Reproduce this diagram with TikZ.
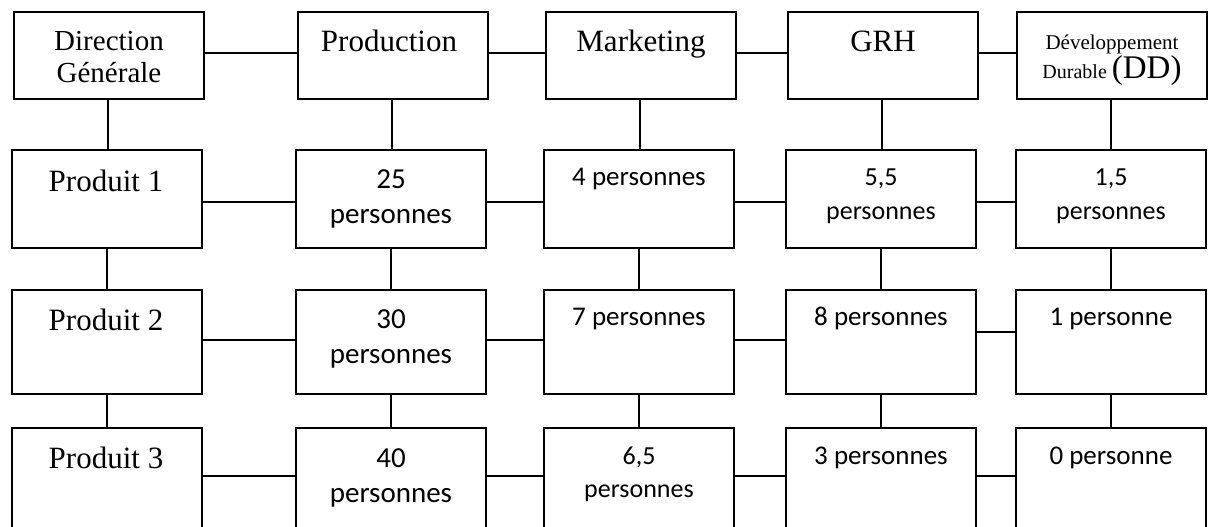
\documentclass[tikz,border=0pt]{standalone}
\usepackage{fontspec}
\setmainfont{Liberation Serif}
\newfontfamily\calfont{Carlito}
\begin{document}
\begin{tikzpicture}[x=1pt,y=-1pt,
  box/.style={draw, line width=1.8pt, rectangle, minimum width=190pt, inner sep=0pt},
  conn/.style={line width=1.8pt},
  ser/.style={anchor=base, inner sep=0pt, font=\fontsize{#1}{#1}\selectfont},
  cal/.style={anchor=base, inner sep=0pt, font=\calfont\fontsize{#1}{#1}\selectfont}]
\useasboundingbox (0,0) rectangle (1208,527);
\clip (0,0) rectangle (1208,527);
% level coordinates for horizontal connectors
\coordinate (r1) at (0,53);
\coordinate (r2) at (0,202);
\coordinate (r3) at (0,340);
\coordinate (r3b) at (0,332);
\coordinate (r4) at (0,476);
% row 1
\node[box, minimum height=87pt] (dg) at (109,55.5) {};
\node[box, minimum height=87pt] (prod) at (393,55.5) {};
\node[box, minimum height=87pt] (mkt) at (641,55.5) {};
\node[box, minimum height=87pt] (grh) at (883,55.5) {};
\node[box, minimum height=87pt] (dd) at (1112,55.5) {};
% row 2
\node[box, minimum height=98pt] (pa1) at (107,199) {};
\node[box, minimum height=98pt] (pb1) at (391,199) {};
\node[box, minimum height=98pt] (pc1) at (639,199) {};
\node[box, minimum height=98pt] (pd1) at (881,199) {};
\node[box, minimum height=98pt] (pe1) at (1111,199) {};
% row 3
\node[box, minimum height=104pt] (pa2) at (107,342) {};
\node[box, minimum height=104pt] (pb2) at (391,342) {};
\node[box, minimum height=104pt] (pc2) at (639,342) {};
\node[box, minimum height=104pt] (pd2) at (881,342) {};
\node[box, minimum height=104pt] (pe2) at (1111,342) {};
% row 4 (cut by the lower edge)
\node[box, minimum height=132pt] (pa3) at (107,494) {};
\node[box, minimum height=132pt] (pb3) at (391,494) {};
\node[box, minimum height=132pt] (pc3) at (639,494) {};
\node[box, minimum height=132pt] (pd3) at (881,494) {};
\node[box, minimum height=132pt] (pe3) at (1111,494) {};
% texts row 1
\node[ser=29] (t-dg1) at (109,51) {Direction};
\node[ser=29] (t-dg2) at (109,83) {Générale};
\node[ser=31] (t-prod) at (389,52) {Production};
\node[ser=31] (t-mkt) at (641,52) {Marketing};
\node[ser=31] (t-grh) at (883,52) {GRH};
\node[ser=21] (t-dd1) at (1112,50) {Développement};
\node[anchor=base, inner sep=0pt] (t-dd2) at (1112,79) {\fontsize{20}{20}\selectfont Durable \fontsize{33}{33}\selectfont(DD)};
% texts row 2
\node[ser=31] (t-pa1) at (106,191) {Produit 1};
\node[cal=29] (t-pb1a) at (391,188) {25};
\node[cal=29] (t-pb1b) at (391,223) {personnes};
\node[cal=27] (t-pc1) at (639,185) {4 personnes};
\node[cal=26] (t-pd1a) at (881,185) {5,5};
\node[cal=26] (t-pd1b) at (881,219) {personnes};
\node[cal=26] (t-pe1a) at (1111,185) {1,5};
\node[cal=26] (t-pe1b) at (1111,219) {personnes};
% texts row 3
\node[ser=31] (t-pa2) at (106,330) {Produit 2};
\node[cal=29] (t-pb2a) at (391,328) {30};
\node[cal=29] (t-pb2b) at (391,363) {personnes};
\node[cal=27] (t-pc2) at (639,325) {7 personnes};
\node[cal=27] (t-pd2) at (881,325) {8 personnes};
\node[cal=27] (t-pe2) at (1111,325) {1 personne};
% texts row 4
\node[ser=31] (t-pa3) at (106,468) {Produit 3};
\node[cal=29] (t-pb3a) at (391,467) {40};
\node[cal=29] (t-pb3b) at (391,502) {personnes};
\node[cal=26] (t-pc3a) at (639,464) {6,5};
\node[cal=26] (t-pc3b) at (639,497) {personnes};
\node[cal=27] (t-pd3) at (881,464) {3 personnes};
\node[cal=27] (t-pe3) at (1111,464) {0 personne};
% horizontal connectors
\draw[conn] (dg.east |- r1) -- (prod.west |- r1);
\draw[conn] (prod.east |- r1) -- (mkt.west |- r1);
\draw[conn] (mkt.east |- r1) -- (grh.west |- r1);
\draw[conn] (grh.east |- r1) -- (dd.west |- r1);
\draw[conn] (pa1.east |- r2) -- (pb1.west |- r2);
\draw[conn] (pb1.east |- r2) -- (pc1.west |- r2);
\draw[conn] (pc1.east |- r2) -- (pd1.west |- r2);
\draw[conn] (pd1.east |- r2) -- (pe1.west |- r2);
\draw[conn] (pa2.east |- r3) -- (pb2.west |- r3);
\draw[conn] (pb2.east |- r3) -- (pc2.west |- r3);
\draw[conn] (pc2.east |- r3) -- (pd2.west |- r3);
\draw[conn] (pd2.east |- r3b) -- (pe2.west |- r3b);
\draw[conn] (pa3.east |- r4) -- (pb3.west |- r4);
\draw[conn] (pb3.east |- r4) -- (pc3.west |- r4);
\draw[conn] (pc3.east |- r4) -- (pd3.west |- r4);
\draw[conn] (pd3.east |- r4) -- (pe3.west |- r4);
% vertical connectors
\draw[conn] ([xshift=-1pt]dg.south) -- ([xshift=-1pt]dg.south |- pa1.north);
\draw[conn] ([xshift=-1pt]prod.south) -- ([xshift=-1pt]prod.south |- pb1.north);
\draw[conn] ([xshift=-1pt]mkt.south) -- ([xshift=-1pt]mkt.south |- pc1.north);
\draw[conn] ([xshift=-1pt]grh.south) -- ([xshift=-1pt]grh.south |- pd1.north);
\draw[conn] ([xshift=-1pt]dd.south) -- ([xshift=-1pt]dd.south |- pe1.north);
\draw[conn] (pa1.south) -- (pa2.north);
\draw[conn] (pb1.south) -- (pb2.north);
\draw[conn] (pc1.south) -- (pc2.north);
\draw[conn] (pd1.south) -- (pd2.north);
\draw[conn] (pe1.south) -- (pe2.north);
\draw[conn] (pa2.south) -- (pa3.north);
\draw[conn] (pb2.south) -- (pb3.north);
\draw[conn] (pc2.south) -- (pc3.north);
\draw[conn] (pd2.south) -- (pd3.north);
\draw[conn] (pe2.south) -- (pe3.north);
\end{tikzpicture}
\end{document}
